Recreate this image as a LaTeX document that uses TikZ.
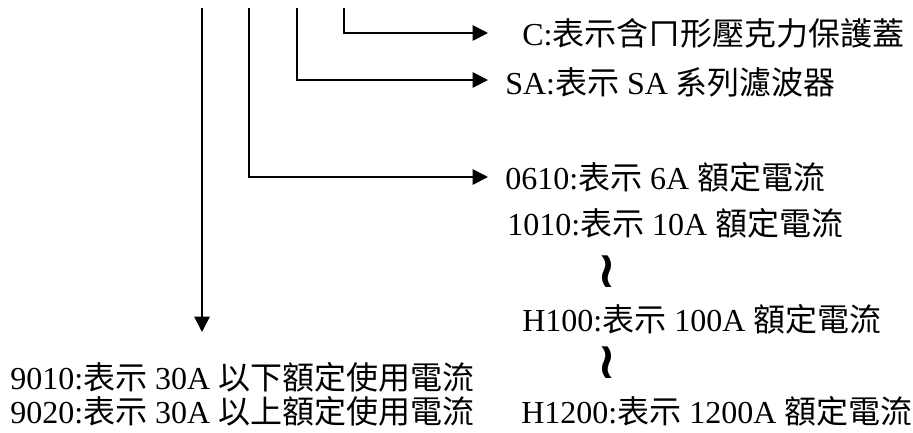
\documentclass[tikz,border=0pt]{standalone}
\usepackage{fontspec}
\setmainfont{Liberation Serif}
\newfontfamily\cjk{Noto Sans CJK TC}
\newfontfamily\symfont{DejaVu Sans}
\usetikzlibrary{arrows.meta,positioning}
\newcommand{\zh}[1]{{\cjk #1}}
\tikzset{
every node/.style={inner sep=0pt},
desc/.style={anchor=west, font=\fontsize{24}{28}\selectfont},
wave/.style={font=\symfont\bfseries\fontsize{38}{40}\selectfont},
arr/.style={-{Triangle[length=11.5pt,width=11.5pt]}, line width=1.4pt}
}

\begin{document}
\begin{tikzpicture}[x=0.75pt, y=-0.75pt]
\useasboundingbox (0,0) rectangle (913,432);

% tops of the four code lines
\coordinate (tp9) at (202,8);
\coordinate (tpA) at (249,8);
\coordinate (tpS) at (297,8);
\coordinate (tpC) at (344,8);

% arrow ends
\coordinate (eC) at (488,33);
\coordinate (eS) at (488,80);
\coordinate (eA) at (488,177);
\coordinate (e9) at (202,332);

\node [desc] (cover) at (522,33) {C:\zh{表示含ㄇ形壓克力保護蓋}};
\node [desc] (series) at (505,82) {SA:\zh{表示} SA \zh{系列濾波器}};

\node [desc] (amp1) at (505,177) {0610:\zh{表示} 6A \zh{額定電流}};
\node [desc] (amp2) at (507,223) {1010:\zh{表示} 10A \zh{額定電流}};
\node [wave] (wave1) at (607,272) {≀};
\node [desc] (amp3) at (522,319) {H100:\zh{表示} 100A \zh{額定電流}};
\node [wave] (wave2) at (607,363) {≀};
\node [desc] (amp4) at (521,411) {H1200:\zh{表示} 1200A \zh{額定電流}};

\node [desc] (use1) at (10,377) {9010:\zh{表示} 30A \zh{以下額定使用電流}};
\node [desc] (use2) at (10,411) {9020:\zh{表示} 30A \zh{以上額定使用電流}};

\foreach \k in {C,S,A}
  \draw[arr] (tp\k) |- (e\k);

\draw[arr] (tp9) -- (e9);
\end{tikzpicture}
\end{document}
